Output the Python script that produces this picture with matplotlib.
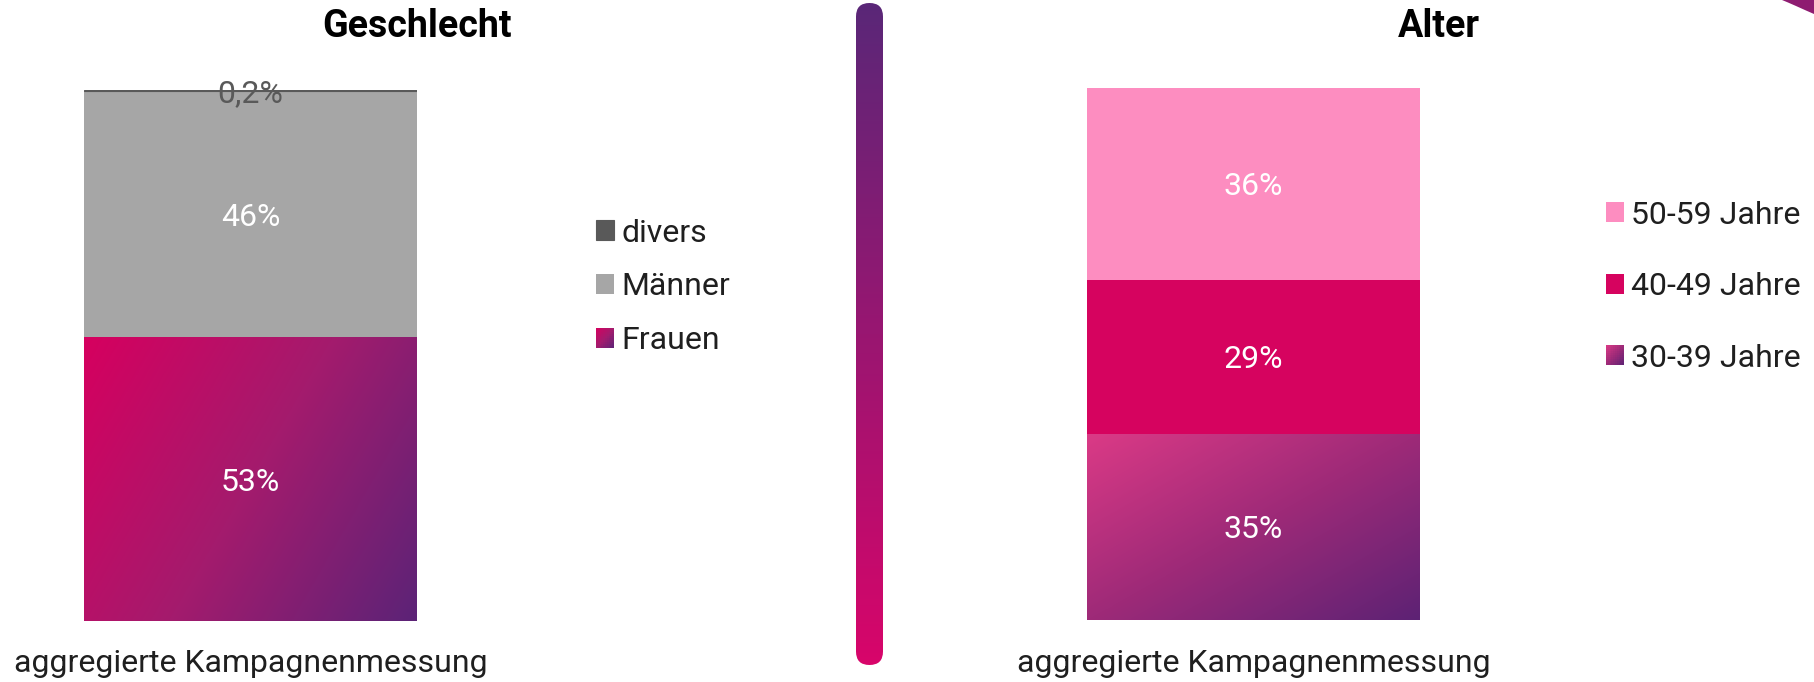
import numpy as np
import matplotlib
matplotlib.use("Agg")
import matplotlib.pyplot as plt
from matplotlib.patches import Rectangle, FancyBboxPatch, Polygon
from matplotlib.colors import LinearSegmentedColormap
from matplotlib.legend_handler import HandlerBase

plt.rcParams['font.family'] = ['Roboto', 'DejaVu Sans']

W, H, DPI = 1814, 682, 100

# ---------------- data ----------------
categories = ["aggregierte Kampagnenmessung"]

gender_title = "Geschlecht"
gender_series = ["Frauen", "Männer", "divers"]
gender_values = [53.4, 46.4, 0.2]
gender_labels = ["53%", "46%", "0,2%"]

age_title = "Alter"
age_series = ["30-39 Jahre", "40-49 Jahre", "50-59 Jahre"]
age_values = [35, 29, 36]
age_labels = ["35%", "29%", "36%"]

# ---------------- styles ----------------
# gradient spec: ("grad", colour stops, angle in degrees (pixel space) or "box")
gender_fills = [("grad", ["#d6005f", "#a41b6d", "#5c2377"], 30), "#a6a6a6", "#595959"]
gender_label_colors = ["white", "white", "#595959"]
age_fills = [("grad", ["#db3a86", "#9e2a78", "#5d2274"], "box"), "#d6035f", "#fd8dc0"]
age_label_colors = ["white", "white", "white"]
TEXT = "#1f1f1f"


def pt(v):
    return v * 72.0 / DPI


def frect(x0, y0, x1, y1):
    return [x0 / W, 1 - y1 / H, (x1 - x0) / W, (y1 - y0) / H]


def grad_rgba(stops, wpx, hpx, mode, nx=300, ny=300):
    cmap = LinearSegmentedColormap.from_list("g", stops)
    X, Y = np.meshgrid(np.linspace(0, 1, nx), np.linspace(0, 1, ny))
    if mode == "box":
        t = (X + Y) / 2
    else:
        a = np.radians(mode)
        t = X * wpx * np.cos(a) + Y * hpx * np.sin(a)
        t = t / t.max()
    return cmap(t)


class GradientSquare(HandlerBase):
    def __init__(self, stops, n=10):
        super().__init__()
        self.cmap = LinearSegmentedColormap.from_list("h", stops)
        self.n = n

    def create_artists(self, legend, orig_handle, xdescent, ydescent,
                       width, height, fontsize, trans):
        arts = []
        n = self.n
        cw, ch = width / n, height / n
        for i in range(n):
            for j in range(n):
                t = ((i + 0.5) / n + 1 - (j + 0.5) / n) / 2
                arts.append(Rectangle((-xdescent + i * cw, -ydescent + j * ch),
                                      cw * 1.08, ch * 1.08, facecolor=self.cmap(t),
                                      edgecolor='none', linewidth=0, transform=trans))
        return arts


fig = plt.figure(figsize=(W / DPI, H / DPI), dpi=DPI)

# ---------------- decorations (pixel overlay) ----------------
deco = fig.add_axes([0, 0, 1, 1], zorder=-5)
deco.set_xlim(0, W)
deco.set_ylim(H, 0)
deco.axis('off')
sep = FancyBboxPatch((856, 3), 27, 662, boxstyle="round,pad=0,rounding_size=13.5",
                     facecolor='none', edgecolor='none', transform=deco.transData)
deco.add_patch(sep)
sep_img = LinearSegmentedColormap.from_list("s", ["#5a2778", "#d8056a"])(
    np.linspace(0, 1, 300))[:, None, :]
im = deco.imshow(sep_img, extent=(856, 883, 665, 3), origin='upper', aspect='auto',
                 interpolation='bilinear')
im.set_clip_path(sep)
deco.add_patch(Polygon([(1782, 0), (1814, 0), (1814, 14), (1806, 10.5), (1796, 6), (1788, 2.5)],
                       closed=True, facecolor="#8e1c71", edgecolor='none'))
deco.set_xlim(0, W)
deco.set_ylim(H, 0)


def draw_stack(rect_px, values, labels, series, fills, label_colors, label_fs,
               xlabel_fs, xlabel_pad, leg_xy, leg_fs, leg_hl, leg_hh, leg_pad, leg_sp):
    ax = fig.add_axes(frect(*rect_px))
    total = sum(values)
    pos = ax.get_position()
    wpx, hpx_ax = pos.width * W, pos.height * H
    bottom = 0.0
    patches, hmap = [], {}
    for v, lab, fill, lc in zip(values, labels, fills, label_colors):
        is_grad = isinstance(fill, tuple)
        color = fill[1][1] if is_grad else fill
        bar = ax.bar(categories, [v], bottom=bottom, width=1.0, color=color, linewidth=0)[0]
        if v < 1:
            bar.set_edgecolor(color)
            bar.set_linewidth(0.8)
        if is_grad:
            img = grad_rgba(fill[1], wpx, v / total * hpx_ax, fill[2])
            gi = ax.imshow(img, extent=(bar.get_x(), bar.get_x() + bar.get_width(),
                                        bottom, bottom + v),
                           origin='upper', aspect='auto', interpolation='bilinear',
                           zorder=bar.get_zorder() + 0.1)
            gi.set_clip_path(bar)
            hmap[bar] = GradientSquare(fill[1])
        ax.text(bar.get_x() + bar.get_width() / 2, bottom + v / 2, lab,
                ha='center', va='center_baseline', color=lc, fontsize=label_fs, zorder=5)
        patches.append(bar)
        bottom += v
    ax.set_xlim(-0.5, 0.5)
    ax.set_ylim(0, total)
    for s in ax.spines.values():
        s.set_visible(False)
    ax.yaxis.set_visible(False)
    ax.tick_params(axis='x', length=0, pad=xlabel_pad, labelsize=xlabel_fs, labelcolor=TEXT)
    leg = ax.legend(patches[::-1], series[::-1], loc='upper left',
                    bbox_to_anchor=(leg_xy[0] / W, 1 - leg_xy[1] / H),
                    bbox_transform=fig.transFigure, frameon=False, borderpad=0,
                    borderaxespad=0, fontsize=leg_fs, handlelength=leg_hl,
                    handleheight=leg_hh, handletextpad=leg_pad, labelspacing=leg_sp,
                    handler_map=hmap)
    for t in leg.get_texts():
        t.set_color(TEXT)
    return ax


draw_stack((84, 90, 417, 621), gender_values, gender_labels, gender_series, gender_fills,
           gender_label_colors, pt(32), pt(32), pt(27.5), (596, 218.5), pt(32), 0.5625, 0.57,
           0.22, 0.78)
draw_stack((1087, 88, 1420, 620), age_values, age_labels, age_series, age_fills,
           age_label_colors, pt(32), pt(32), pt(28.5), (1606, 200.5), pt(32), 0.5625, 0.57,
           0.22, 1.33)

fig.text(416.5 / W, 1 - 37 / H, gender_title, ha='center', va='baseline',
         fontsize=pt(37.6), fontweight='bold', color='black')
fig.text(1439 / W, 1 - 37 / H, age_title, ha='center', va='baseline',
         fontsize=pt(37.6), fontweight='bold', color='black')

fig.savefig("out.png", dpi=DPI, facecolor='white')
